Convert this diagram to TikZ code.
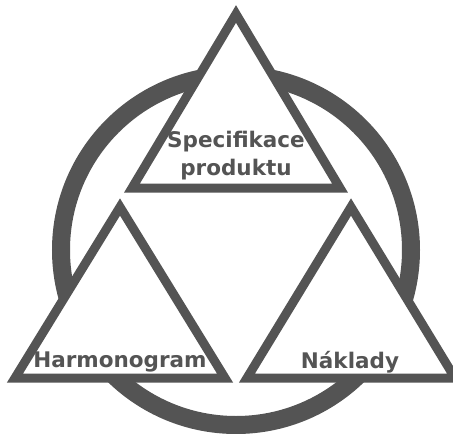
\documentclass[tikz,border=0pt]{standalone}
\usepackage{fontspec}
\setmainfont{DejaVu Sans}
\usetikzlibrary{positioning}
\definecolor{ringgray}{HTML}{545454}

\begin{document}
\begin{tikzpicture}[x=1pt,y=-1pt, tri/.style={draw=ringgray,fill=white,line width=9pt,line join=miter},
		every node/.style={font=\bfseries\fontsize{21.5}{28}\selectfont,text=ringgray,align=center,inner sep=0pt}]
			\useasboundingbox (0,0) rectangle (453,434);
			\fill[white] (0,0) rectangle (453,434);
			\draw[ringgray,line width=18pt] (236,250) circle[radius=175];
			\draw[tri] (236,14) -- (132,188) -- (340,188) -- cycle;
			\draw[tri] (120,207) -- (15,378) -- (225,378) -- cycle;
			\draw[tri] (351,207) -- (247,378) -- (455,378) -- cycle;
			\node (spec) at (236,156) {Specifikace\\produktu};
			\node (harm) at (120,362) {Harmonogram};
			\node (nakl) at (350,362) {Náklady};
		\end{tikzpicture}
\end{document}
